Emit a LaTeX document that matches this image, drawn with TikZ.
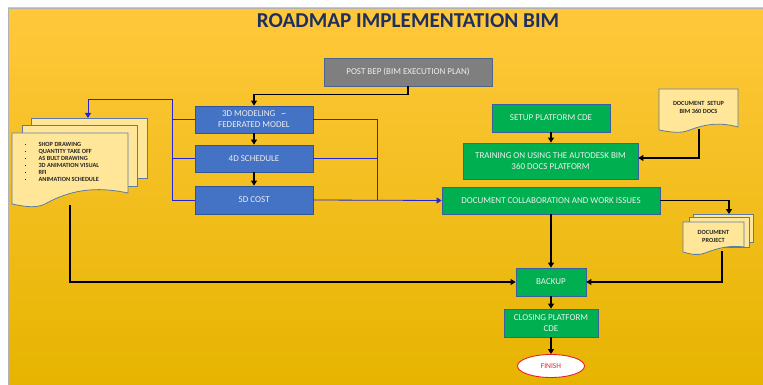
\documentclass[tikz,border=0pt]{standalone}
\usepackage{fontspec}
\setmainfont{Carlito}
\usetikzlibrary{arrows.meta,shapes.geometric}
\definecolor{bgtop}{HTML}{FFC83C}
\definecolor{bgmid}{HTML}{FFC20A}
\definecolor{bgbot}{HTML}{E6B400}
\definecolor{titlec}{HTML}{1F2F5E}
\definecolor{bluefill}{HTML}{4472C4}
\definecolor{blueedge}{HTML}{2F5597}
\definecolor{greenfill}{HTML}{00B050}
\definecolor{greenedge}{HTML}{3B5EA0}
\definecolor{grayfill}{HTML}{7F7F7F}
\definecolor{grayedge}{HTML}{4A6590}
\definecolor{docfill}{HTML}{FFE699}
\definecolor{docedge}{HTML}{5B7BA8}
\definecolor{linkblue}{HTML}{2424D8}
\definecolor{boxtext}{HTML}{EEEEEE}
\definecolor{finred}{HTML}{E8202A}
\tikzset{
  box/.style={draw, line width=0.8pt, text=boxtext, align=center, inner sep=1pt,
    font=\fontsize{9}{11}\selectfont},
  bluebox/.style={box, fill=bluefill, draw=blueedge},
  greenbox/.style={box, fill=greenfill, draw=greenedge},
  graybox/.style={box, fill=grayfill, draw=grayedge},
  page/.style={fill=docfill, draw=docedge, line width=0.8pt},
  doctext/.style={font=\bfseries\fontsize{6.3}{8}\selectfont, text=black!85, align=center},
  blk/.style={draw=black, line width=1.1pt},
  blu/.style={draw=linkblue, line width=0.8pt},
  tip/.style={-{Triangle[width=6pt,length=5pt]}},
}
\newcommand{\bul}{\makebox[14pt][l]{\raisebox{1.2pt}{\rule{1pt}{1pt}}}}
\begin{document}
\begin{tikzpicture}[x=1pt,y=-1pt]
\useasboundingbox (0,0) rectangle (763,385);
\fill[white] (0,0) rectangle (763,385);
\shade[top color=bgtop, middle color=bgmid, bottom color=bgbot, shading angle=0] (8,8) rectangle (763,385);
\draw[gray!60, line width=0.4pt] (8,385) -- (8,8) -- (763,8);

\node[font=\bfseries\fontsize{21.2}{24}\selectfont, text=titlec] (title) at (408,21) {ROADMAP IMPLEMENTATION BIM};

% main boxes
\node[graybox, minimum width=168pt, minimum height=28pt] (post) at (408,72) {POST BEP (BIM EXECUTION PLAN)};
\node[bluebox, minimum width=118pt, minimum height=27pt] (m3d) at (254,119.5) {3D MODELING \ \ \textasciitilde\\FEDERATED MODEL};
\node[bluebox, minimum width=118pt, minimum height=27pt] (s4d) at (254,158.5) {4D SCHEDULE};
\node[bluebox, minimum width=118pt, minimum height=28pt] (c5d) at (254,200) {5D COST};
\node[greenbox, minimum width=118pt, minimum height=28pt] (setup) at (551,118) {SETUP PLATFORM CDE};
\node[greenbox, minimum width=175pt, minimum height=36pt] (train) at (550.5,161) {TRAINING ON USING THE AUTODESK BIM\\360 DOCS PLATFORM};
\node[greenbox, minimum width=218pt, minimum height=27pt] (collab) at (551,200.5) {DOCUMENT COLLABORATION AND WORK ISSUES};
\node[greenbox, minimum width=70pt, minimum height=28pt] (backup) at (551,282) {BACKUP};
\node[greenbox, minimum width=94pt, minimum height=28pt] (closing) at (551,323) {CLOSING PLATFORM\\CDE};
\node[ellipse, draw=finred, fill=white, line width=0.9pt, minimum width=67pt, minimum height=23pt, inner sep=0pt,
  text=finred, font=\fontsize{7.5}{8}\selectfont] (finish) at (551,366) {FINISH};

% left document stack
\draw[page] (31,118) rectangle (147,178);
\draw[page] (22,125) rectangle (137,186);
\draw[page] (12,133) -- (128,133) -- (128,193) .. controls (95,186) and (70,190) .. (45,204) .. controls (35,209) and (22,206) .. (12,204) -- cycle;
\node[doctext, align=left, anchor=north west, font=\bfseries\fontsize{6.3}{7}\selectfont] (deliv) at (21,138.5) {%
\bul SHOP DRAWING\\
\bul QUANTITY TAKE OFF\\
\bul AS BULT DRAWING\\
\bul 3D ANIMATION VISUAL\\
\bul RFI\\
\bul ANIMATION SCHEDULE};
\coordinate (lstacktop) at (88,118);
\coordinate (lstackbot) at (70,205);

% document setup
\draw[page] (659,89) -- (738,89) -- (738,127) .. controls (720,122) and (705,124) .. (690,130) .. controls (680,134) and (670,132) .. (659,130) -- cycle;
\node[doctext] (dsetup) at (698.5,107) {DOCUMENT\ \ SETUP\\BIM 360 DOCS};
\coordinate (dsetupbot) at (699,129);

% document project stack
\draw[page] (693,214) rectangle (753,242);
\draw[page] (689,217) rectangle (749,247);
\draw[page] (683,222) -- (744,222) -- (744,247) .. controls (730,245) and (718,248) .. (705,253) .. controls (697,256) and (690,254) .. (683,252) -- cycle;
\node[doctext] (dproj) at (713.5,236) {DOCUMENT\\PROJECT};
\coordinate (dprojtop) at (729,214);
\coordinate (dprojbot) at (722,251);

% black connectors
\draw[blk, tip] (post.south) -- ++(0,8) -| (m3d.north);
\draw[blk, tip] (m3d.south) -- (s4d.north);
\draw[blk, tip] (s4d.south) -- (c5d.north);
\draw[blk, tip] (setup.south) -- (setup.south |- train.north);
\draw[blk, tip] (dsetupbot) |- (train.east |- 0,158) ;
\draw[blk, tip] (collab.east) -| (dprojtop);
\draw[blk, tip] (collab.south) -- (backup.north);
\draw[blk, tip] (dprojbot) |- (backup.east);
\draw[blk, tip] (lstackbot) |- (backup.west);
\draw[blk, tip] (backup.south) -- (closing.north);
\draw[blk, tip] (closing.south) -- (finish.north);

% blue connectors
\coordinate (lbus) at (172,99);
\coordinate (rbus) at (377,119.5);
\draw[blu] (m3d.west) -- (m3d.west -| lbus);
\draw[blu] (s4d.west) -- (s4d.west -| lbus);
\draw[blu] (c5d.west) -| (lbus);
\draw[blu, tip] (lbus) -| (lstacktop);
\draw[blu] (m3d.east) -- (rbus);
\draw[blu] (s4d.east) -- (s4d.east -| rbus);
\draw[blu] (rbus) -- (rbus |- c5d.east);
\draw[blu, tip] (c5d.east) -- (collab.west);
\end{tikzpicture}
\end{document}
